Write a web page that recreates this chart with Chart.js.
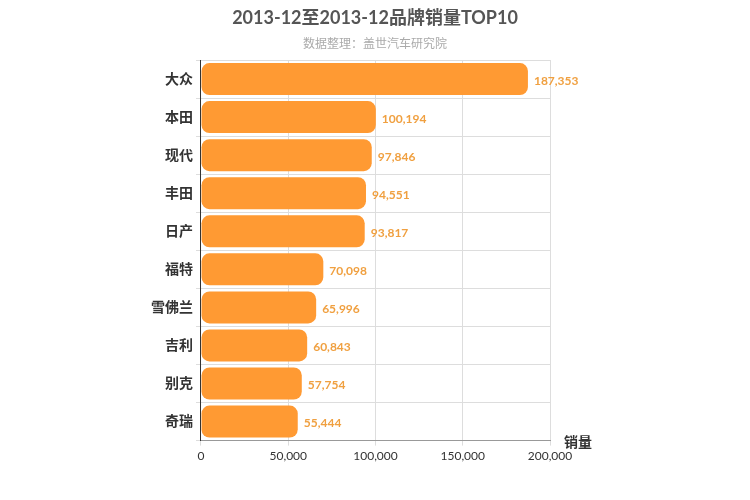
<!DOCTYPE html>
<html>
<head>
<meta charset="utf-8">
<script src="https://cdn.jsdelivr.net/npm/chart.js@4"></script>
<style>
  html, body { margin: 0; padding: 0; background: #fff; }
  #wrap { width: 750px; height: 500px; }
</style>
</head>
<body>
<div id="wrap"><canvas id="chart"></canvas></div>
<script>
// brand sales, Dec 2013
const brands = ['大众', '本田', '现代', '丰田', '日产', '福特', '雪佛兰', '吉利', '别克', '奇瑞'];
const sales = [187353, 100194, 97846, 94551, 93817, 70098, 65996, 60843, 57754, 55444];
const xTicks = [0, 50000, 100000, 150000, 200000];

const FONT = 'Lato, "Noto Sans CJK SC", sans-serif';

// title, value labels at bar ends, "销量" axis label
const extras = {
    id: 'extras',
    afterDatasetsDraw(chart) {
        const ctx = chart.ctx;
        const meta = chart.getDatasetMeta(0);
        ctx.save();
        ctx.textAlign = 'center';
        ctx.textBaseline = 'middle';
        ctx.font = 'bold 18px ' + FONT;
        ctx.fillStyle = '#555';
        ctx.fillText('2013-12至2013-12品牌销量TOP10', 375, 18);
        ctx.font = '12px ' + FONT;
        ctx.fillStyle = '#aaa';
        ctx.fillText('数据整理：盖世汽车研究院', 375, 44);

        ctx.textAlign = 'left';
        ctx.font = 'bold 12px ' + FONT;
        ctx.fillStyle = '#f0a040';
        meta.data.forEach((bar, i) => {
            ctx.fillText(sales[i].toLocaleString('en-US'), bar.x + 6, bar.y + 2);
        });
        const x = chart.scales.x;
        ctx.font = 'bold 14px ' + FONT;
        ctx.fillStyle = '#333';
        ctx.fillText('销量', x.right + 14, x.top + 2);
        ctx.restore();
    }
};

new Chart(document.getElementById('chart'), {
    type: 'bar',
    data: {
        labels: brands,
        datasets: [{
            data: sales,
            backgroundColor: '#ff9a33',
            borderRadius: 8,
            borderSkipped: false,
            categoryPercentage: 0.84,
            barPercentage: 1
        }]
    },
    options: {
        indexAxis: 'y',
        responsive: true,
        maintainAspectRatio: false,
        animation: false,
        layout: { padding: { left: 148, right: 200, top: 60, bottom: 34 } },
        plugins: {
            legend: { display: false },
            tooltip: { enabled: false },
            title: { display: false }
        },
        scales: {
            x: {
                min: 0,
                max: 200000,
                afterBuildTicks: axis => { axis.ticks = xTicks.map(v => ({ value: v })); },
                grid: { color: '#ddd', drawTicks: true, tickLength: 5 },
                border: { color: '#999' },
                ticks: {
                    color: '#333',
                    font: { family: FONT, size: 12 },
                    callback: v => v.toLocaleString('en-US')
                }
            },
            y: {
                grid: { color: '#ddd', offset: true, tickLength: 5 },
                border: { color: '#333' },
                ticks: {
                    color: '#333',
                    font: { family: FONT, size: 14, weight: 'bold' }
                }
            }
        }
    },
    plugins: [extras]
});
</script>
</body>
</html>
